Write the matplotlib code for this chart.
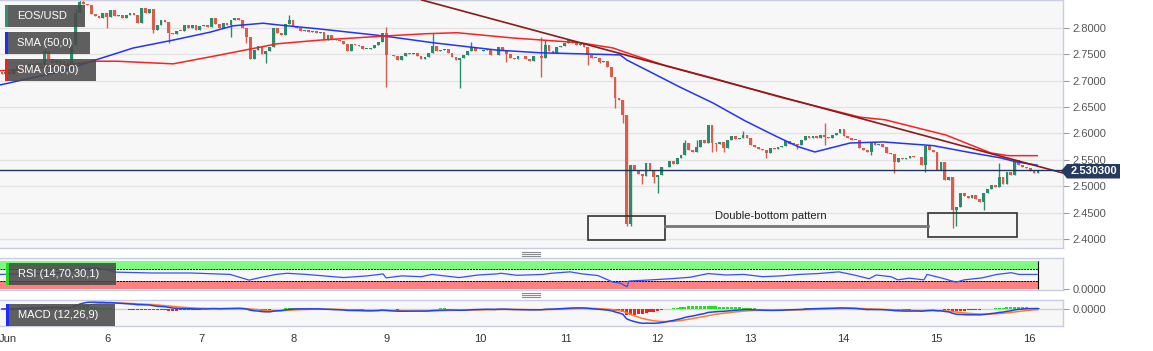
import matplotlib
matplotlib.use("Agg")
import matplotlib.pyplot as plt
from matplotlib.patches import Rectangle, Polygon
from matplotlib.lines import Line2D
import numpy as np
import pandas as pd

plt.rcParams["font.family"] = ["Liberation Sans", "DejaVu Sans"]

W, H = 1153, 351

# hourly EOS/USD candles, Jun 5 - Jun 16 (open of each = previous close)
first_open = 2.716
closes = [
    2.713, 2.716, 2.712, 2.722, 2.727, 2.729, 2.726, 2.731, 2.728, 2.733,
    2.730, 2.757, 2.742, 2.733, 2.740, 2.731, 2.737, 2.728, 2.768, 2.828,
    2.850, 2.846, 2.843, 2.826, 2.822, 2.818, 2.828, 2.820, 2.834, 2.822,
    2.825, 2.818, 2.824, 2.828, 2.825, 2.810, 2.838, 2.828, 2.835, 2.797,
    2.806, 2.816, 2.812, 2.790, 2.789, 2.795, 2.794, 2.806, 2.800, 2.805,
    2.796, 2.803, 2.806, 2.801, 2.818, 2.808, 2.800, 2.810, 2.806, 2.816,
    2.818, 2.816, 2.800, 2.783, 2.741, 2.758, 2.765, 2.750, 2.756, 2.764,
    2.800, 2.790, 2.786, 2.808, 2.815, 2.803, 2.800, 2.795, 2.797, 2.793,
    2.795, 2.790, 2.793, 2.778, 2.787, 2.779, 2.778, 2.775, 2.770, 2.756,
    2.770, 2.768, 2.765, 2.760, 2.760, 2.762, 2.768, 2.773, 2.790, 2.749,
    2.748, 2.746, 2.740, 2.747, 2.752, 2.750, 2.752, 2.746, 2.742, 2.745,
    2.752, 2.766, 2.756, 2.759, 2.760, 2.752, 2.745, 2.740, 2.743, 2.748,
    2.756, 2.764, 2.756, 2.757, 2.759, 2.760, 2.749, 2.748, 2.764, 2.758,
    2.750, 2.744, 2.742, 2.747, 2.746, 2.741, 2.738, 2.747, 2.746, 2.744,
    2.768, 2.757, 2.752, 2.764, 2.765, 2.771, 2.777, 2.771, 2.768, 2.769,
    2.763, 2.749, 2.744, 2.744, 2.735, 2.738, 2.726, 2.707, 2.667, 2.663,
    2.635, 2.429, 2.540, 2.531, 2.524, 2.519, 2.544, 2.530, 2.517, 2.522,
    2.537, 2.536, 2.547, 2.542, 2.553, 2.560, 2.582, 2.568, 2.564, 2.574,
    2.588, 2.582, 2.616, 2.582, 2.580, 2.584, 2.573, 2.588, 2.596, 2.590,
    2.592, 2.598, 2.591, 2.578, 2.575, 2.570, 2.569, 2.563, 2.572, 2.571,
    2.575, 2.577, 2.585, 2.580, 2.581, 2.579, 2.587, 2.596, 2.591, 2.596,
    2.591, 2.597, 2.594, 2.592, 2.597, 2.601, 2.608, 2.595, 2.591, 2.588,
    2.588, 2.573, 2.569, 2.565, 2.584, 2.578, 2.580, 2.575, 2.563, 2.561,
    2.546, 2.554, 2.552, 2.553, 2.557, 2.555, 2.556, 2.540, 2.577, 2.568,
    2.564, 2.531, 2.546, 2.512, 2.518, 2.455, 2.461, 2.488, 2.482, 2.478,
    2.484, 2.476, 2.470, 2.488, 2.494, 2.503, 2.498, 2.517, 2.504, 2.527,
    2.522, 2.550, 2.540, 2.536, 2.535, 2.528, 2.526, 2.5303,
]
wick_highs = {11: 2.760, 19: 2.835, 20: 2.870, 21: 2.870, 74: 2.825, 99: 2.802,
              111: 2.790, 121: 2.773, 139: 2.783, 140: 2.778, 176: 2.588,
              179: 2.588, 191: 2.604, 212: 2.620, 257: 2.544}
wick_lows = {27: 2.800, 39: 2.790, 43: 2.772, 59: 2.783, 63: 2.772, 68: 2.733,
             99: 2.688, 118: 2.686, 130: 2.735, 139: 2.707, 151: 2.730,
             154: 2.734, 158: 2.648, 160: 2.620, 161: 2.425, 162: 2.425,
             165: 2.505, 168: 2.506, 169: 2.487, 183: 2.565, 184: 2.566,
             186: 2.565, 197: 2.553, 205: 2.570, 212: 2.578, 224: 2.559,
             230: 2.525, 238: 2.527, 245: 2.421, 246: 2.425, 253: 2.455}
last_price = 2.5303

# moving averages as drawn (candle index, price)
sma50_x = [-0.5, 14.9, 22.7, 33.8, 44.1, 53.6, 59.5, 67.3, 70.9, 82.0, 98.2,
           111.1, 127.6, 138.7, 159.3, 161.1, 166.2, 174.7, 183.2, 191.5, 199.7,
           205.2, 209.5, 218.6, 227.1, 240.0, 248.7, 257.2, 261.6, 266.8]
sma50_y = [2.692, 2.717, 2.736, 2.762, 2.777, 2.792, 2.804, 2.809, 2.806, 2.798,
           2.785, 2.772, 2.758, 2.753, 2.749, 2.739, 2.720, 2.688, 2.658, 2.624,
           2.594, 2.575, 2.565, 2.582, 2.584, 2.577, 2.565, 2.554, 2.546, 2.540]
sma100_x = [-0.5, 4.6, 24.5, 29.6, 44.1, 54.9, 70.9, 82.0, 99.2, 109.0, 117.3,
            131.7, 149.0, 157.5, 162.6, 170.4, 183.2, 200.5, 221.1, 227.6, 243.3,
            254.9, 259.3, 266.8]
sma100_y = [2.719, 2.720, 2.737, 2.737, 2.732, 2.747, 2.770, 2.777, 2.785, 2.789,
            2.791, 2.781, 2.772, 2.762, 2.749, 2.730, 2.705, 2.669, 2.631, 2.626,
            2.597, 2.563, 2.558, 2.558]
trend_x = [108.2, 273.5]
trend_y = [2.853, 2.525]

# RSI (14) as drawn
rsi_x = [-0.5, 9.8, 17.5, 20.1, 24.0, 27.3, 29.1, 38.9, 48.7, 58.8, 63.7, 66.5,
         70.6, 73.5, 78.4, 88.1, 94.1, 97.2, 98.2, 99.0, 103.1, 108.0, 110.8,
         117.8, 122.7, 127.6, 128.6, 132.7, 139.4, 141.5, 146.4, 149.5, 153.6,
         157.5, 159.3, 161.1, 161.6, 166.0, 172.4, 177.3, 182.0, 186.6, 191.2,
         196.1, 200.8, 205.4, 210.3, 215.7, 219.6, 223.5, 225.3, 229.1, 230.9,
         233.8, 237.6, 238.4, 242.3, 245.9, 248.0, 252.6, 256.4, 260.1, 262.1,
         266.8]
rsi_y = [52, 55, 60, 72, 74, 68, 60, 57, 57, 52, 32, 41, 52, 56, 52, 41, 47, 52,
         54, 40, 47, 44, 52, 41, 50, 54, 56, 49, 52, 56, 61, 54, 48, 25, 22, 9,
         29, 32, 37, 42, 55, 50, 52, 44, 47, 52, 55, 61, 50, 37, 50, 44, 33, 39,
         33, 52, 39, 25, 33, 40, 52, 58, 52, 52]

day_ticks = [1.5, 27.3, 51.3, 75.1, 99.1, 123.2, 145.3, 168.9, 192.8, 216.8,
             240.7, 264.8]
day_labels = ["Jun", "6", "7", "8", "9", "10", "11", "12", "13", "14", "15", "16"]
price_ticks = [2.40, 2.45, 2.50, 2.55, 2.60, 2.65, 2.70, 2.75, 2.80]

GREEN = "#2b8c6b"
RED = "#dc5b4b"
BORDER = "#c8cde2"
PANEL = "#f7f7f7"
XLIM = (-0.515, 273.45)


def style_panel(ax):
    ax.set_facecolor(PANEL)
    ax.set_xlim(*XLIM)
    for side in ax.spines.values():
        side.set_color(BORDER)
        side.set_linewidth(1)
    ax.spines["left"].set_visible(False)
    ax.yaxis.tick_right()
    ax.tick_params(axis="y", length=4, color="#999999", labelcolor="#555555",
                   labelsize=8, pad=3)
    ax.set_xticks([])


fig = plt.figure(figsize=(W / 100, H / 100), dpi=100)
fig.patch.set_facecolor("white")

ax = fig.add_axes([0, 1 - 248 / H, 1063 / W, 248 / H])
rsi_ax = fig.add_axes([0, 1 - 290 / H, 1063 / W, 31.7 / H])
macd_ax = fig.add_axes([0, 1 - 326 / H, 1063 / W, 26 / H])
for a in (ax, rsi_ax, macd_ax):
    style_panel(a)

# ---- price panel
n = len(closes)
idx = np.arange(n)
opens = np.array([first_open] + closes[:-1])
close_arr = np.array(closes)
up = close_arr >= opens
colors = np.where(up, GREEN, RED)
highs = [wick_highs.get(i, max(opens[i], close_arr[i])) for i in range(n)]
lows = [wick_lows.get(i, min(opens[i], close_arr[i])) for i in range(n)]

ax.set_ylim(2.383, 2.853)
ax.set_yticks(price_ticks)
ax.set_yticklabels([f"{v:.4f}" for v in price_ticks])
ax.grid(axis="y", color="#e3e3e3", lw=1)
ax.set_axisbelow(True)

ax.vlines(idx, lows, highs, colors=colors, lw=1, zorder=2)
body_low = np.minimum(opens, close_arr)
body_h = np.maximum(np.abs(close_arr - opens), 0.0012)
ax.bar(idx, body_h, bottom=body_low, width=0.72, color=colors, zorder=3)

ax.plot(sma50_x, sma50_y, color="#2233ff", lw=1.1, zorder=4)
ax.plot(sma100_x, sma100_y, color="#ff2020", lw=1.1, zorder=4)
ax.plot(trend_x, trend_y, color="#8b1a1a", lw=1.2, zorder=4)
ax.axhline(last_price, color="#1f355e", lw=1, zorder=4)

# double-bottom annotation
ax.add_patch(Rectangle((151, 2.398), 19.9, 0.046, fill=False, ec="#333333",
                       lw=1.2, zorder=5))
ax.add_patch(Rectangle((238.7, 2.403), 22.9, 0.047, fill=False, ec="#333333",
                       lw=1.2, zorder=5))
ax.plot([170.9, 238.7], [2.424, 2.424], color="#777777", lw=2, zorder=5)
ax.text(198.2, 2.4445, "Double-bottom pattern", ha="center", va="center",
        fontsize=8, color="#222222", zorder=6)

# ---- RSI panel
rsi_ax.set_ylim(-2.45, 108.4)
band_end = n - 1
rsi_ax.fill_between([XLIM[0], band_end], 70, 100, color="#7dfc7d", lw=0, zorder=1)
rsi_ax.fill_between([XLIM[0], band_end], 0, 30, color="#ff8080", lw=0, zorder=1)
rsi_ax.hlines([70, 30], XLIM[0], band_end, colors="black", lw=0.7,
              linestyles=(0, (2, 1)), zorder=2)
rsi_ax.vlines(band_end, 0, 100, colors="black", lw=0.8, zorder=2)
rsi_ax.plot(rsi_x, rsi_y, color="#3050ff", lw=0.9, zorder=3)
rsi_ax.set_yticks([0])
rsi_ax.set_yticklabels(["0.0000"])

# ---- MACD panel (12, 26, 9) from the closes
s = pd.Series(closes)
macd = s.ewm(span=12, adjust=False).mean() - s.ewm(span=26, adjust=False).mean()
signal = macd.ewm(span=9, adjust=False).mean()
hist = macd - signal
m_top = max(macd.max() * 1.05, -macd.min() * 9 / 14.3)
macd_ax.set_ylim(-m_top * 17 / 9, m_top)
macd_ax.axhline(0, color="#d0d0d0", lw=1, zorder=1)
macd_ax.bar(idx, hist, width=0.8, color=np.where(hist >= 0, "#22e022", "#ff1a1a"),
            zorder=2)
macd_ax.plot(idx, signal, color="#ff7f1f", lw=1.1, zorder=3)
macd_ax.plot(idx, macd, color="#2040ff", lw=1.1, zorder=3)
macd_ax.set_yticks([0])
macd_ax.set_yticklabels(["0.0000"])
macd_ax.set_xticks(day_ticks)
macd_ax.set_xticklabels(day_labels)
macd_ax.tick_params(axis="x", length=0, pad=5.5, labelsize=8, labelcolor="#333333")


# ---- overlay labels (figure pixels)
def label_box(x0, y0, x1, y1, stripe, text):
    fig.add_artist(Rectangle((x0 / W, 1 - y1 / H), (x1 - x0) / W, (y1 - y0) / H,
                             transform=fig.transFigure, facecolor="#4a4a4a",
                             alpha=0.88, edgecolor="none", zorder=20))
    fig.add_artist(Rectangle((x0 / W, 1 - y1 / H), 2.5 / W, (y1 - y0) / H,
                             transform=fig.transFigure, facecolor=stripe,
                             edgecolor="none", zorder=21))
    fig.text((x0 + 12) / W, 1 - (y0 + y1) / 2 / H, text, color="white",
             fontsize=8, ha="left", va="center", zorder=22)


label_box(5, 5, 85, 27, "#2f8f76", "EOS/USD")
label_box(5, 32, 90, 54, "#1a2cff", "SMA (50,0)")
label_box(5, 59, 96, 81, "#ff1a1a", "SMA (100,0)")
label_box(6, 263, 116, 285, "#22dd22", "RSI (14,70,30,1)")
label_box(6, 304, 115, 326, "#1a2cff", "MACD (12,26,9)")

tag = [(1061, 171), (1067, 164), (1120, 164), (1120, 178.5), (1067, 178.5)]
fig.add_artist(Polygon([(x / W, 1 - y / H) for x, y in tag], closed=True,
                       transform=fig.transFigure, facecolor="#243a5e",
                       edgecolor="none", zorder=20))
fig.text(1094 / W, 1 - 171.5 / H, f"{last_price:.6f}", color="white", fontsize=8,
         fontweight="bold", ha="center", va="center", zorder=21)

for y0 in (252.3, 293.3):
    for k in range(3):
        yy = 1 - (y0 + 1.7 * k) / H
        fig.add_artist(Line2D([522 / W, 540 / W], [yy, yy], transform=fig.transFigure,
                              color="#8a8a8a", lw=0.8, zorder=20))

fig.savefig("out.png", dpi=100, facecolor="white")
